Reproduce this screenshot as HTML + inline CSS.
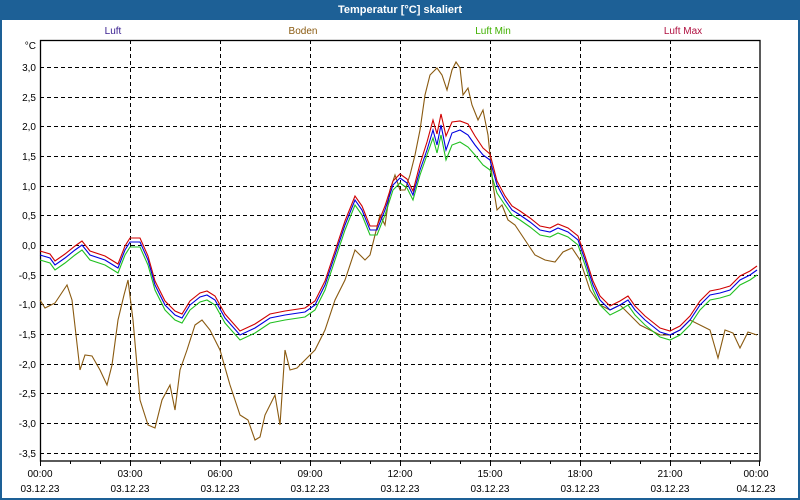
<!DOCTYPE html>
<html><head><meta charset="utf-8"><style>
html,body{margin:0;padding:0;background:#fff}
svg{display:block;font-family:"Liberation Sans",sans-serif}
</style></head><body>
<svg width="800" height="500" xmlns="http://www.w3.org/2000/svg">
<rect x="0" y="0" width="800" height="500" fill="#1d6096"/>
<rect x="2" y="20" width="796" height="478" fill="#fff"/>
<text x="400" y="13" fill="#fff" font-size="11" font-weight="bold" text-anchor="middle">Temperatur [°C] skaliert</text>
<g font-size="10" text-anchor="middle">
<text x="113" y="34" fill="#3a2090">Luft</text>
<text x="303" y="34" fill="#8a5a10">Boden</text>
<text x="493" y="34" fill="#40b000">Luft Min</text>
<text x="683" y="34" fill="#b01040">Luft Max</text>
</g>
<g stroke="#000" stroke-dasharray="4,3" stroke-width="1">
<line x1="130.5" y1="40" x2="130.5" y2="461"/><line x1="220.5" y1="40" x2="220.5" y2="461"/>
<line x1="310.5" y1="40" x2="310.5" y2="461"/><line x1="400.5" y1="40" x2="400.5" y2="461"/>
<line x1="490.5" y1="40" x2="490.5" y2="461"/><line x1="580.5" y1="40" x2="580.5" y2="461"/>
<line x1="670.5" y1="40" x2="670.5" y2="461"/>
<line x1="40" y1="67.5" x2="760" y2="67.5"/><line x1="40" y1="97.5" x2="760" y2="97.5"/>
<line x1="40" y1="126.5" x2="760" y2="126.5"/><line x1="40" y1="156.5" x2="760" y2="156.5"/>
<line x1="40" y1="186.5" x2="760" y2="186.5"/><line x1="40" y1="215.5" x2="760" y2="215.5"/>
<line x1="40" y1="245.5" x2="760" y2="245.5"/><line x1="40" y1="275.5" x2="760" y2="275.5"/>
<line x1="40" y1="304.5" x2="760" y2="304.5"/><line x1="40" y1="334.5" x2="760" y2="334.5"/>
<line x1="40" y1="364.5" x2="760" y2="364.5"/><line x1="40" y1="393.5" x2="760" y2="393.5"/>
<line x1="40" y1="423.5" x2="760" y2="423.5"/><line x1="40" y1="453.5" x2="760" y2="453.5"/>
</g>
<rect x="40.5" y="40.5" width="719.5" height="420.5" fill="none" stroke="#000" stroke-width="1.3"/>
<g stroke="#000">
<path d="M40.5 461v5M70.5 461v3M100.5 461v3M130.5 461v5M160.5 461v3M190.5 461v3M220.5 461v5M250.5 461v3M280.5 461v3M310.5 461v5M340.5 461v3M370.5 461v3M400.5 461v5M430.5 461v3M460.5 461v3M490.5 461v5M520.5 461v3M550.5 461v3M580.5 461v5M610.5 461v3M640.5 461v3M670.5 461v5M700.5 461v3M730.5 461v3M759.5 461v5"/>
</g>
<g font-size="10" fill="#000" text-anchor="end">
<text x="36" y="49">°C</text>
<text x="36" y="71">3,0</text><text x="36" y="101">2,5</text><text x="36" y="130">2,0</text>
<text x="36" y="160">1,5</text><text x="36" y="190">1,0</text><text x="36" y="219">0,5</text>
<text x="36" y="249">0,0</text><text x="36" y="279">-0,5</text><text x="36" y="308">-1,0</text>
<text x="36" y="338">-1,5</text><text x="36" y="368">-2,0</text><text x="36" y="397">-2,5</text>
<text x="36" y="427">-3,0</text><text x="36" y="457">-3,5</text>
</g>
<g font-size="10" fill="#000" text-anchor="middle">
<text x="40" y="477">00:00</text><text x="130" y="477">03:00</text><text x="220" y="477">06:00</text>
<text x="310" y="477">09:00</text><text x="400" y="477">12:00</text><text x="490" y="477">15:00</text>
<text x="580" y="477">18:00</text><text x="670" y="477">21:00</text><text x="756" y="477">00:00</text>
<text x="40" y="492">03.12.23</text><text x="130" y="492">03.12.23</text><text x="220" y="492">03.12.23</text>
<text x="310" y="492">03.12.23</text><text x="400" y="492">03.12.23</text><text x="490" y="492">03.12.23</text>
<text x="580" y="492">03.12.23</text><text x="670" y="492">03.12.23</text><text x="756" y="492">04.12.23</text>
</g>
<g fill="none" stroke-width="1.1">
<polyline stroke="#8a5a10" points="40,300 45,308 55,303 67,285 72,300 80,370 85,355 92,356 100,370 107,385 112,365 118,320 124,295 128,280 133,320 140,400 148,425 155,428 162,400 170,385 175,410 180,370 187,350 195,325 202,320 210,330 220,350 230,385 240,415 248,420 255,440 260,437 265,415 275,395 280,425 285,350 290,370 297,368 305,360 315,350 325,330 335,300 345,280 355,250 365,260 370,255 380,215 385,225 390,190 395,175 400,190 405,190 410,175 415,155 420,130 425,95 430,75 437,68 442,75 447,90 452,70 456,62 460,68 463,95 468,88 472,105 478,120 483,110 488,135 493,185 497,210 502,205 508,220 515,225 525,240 535,255 545,260 555,262 563,252 572,248 580,260 590,290 600,305 610,310 620,305 630,315 640,325 650,330 660,335 670,335 680,330 690,320 700,325 710,330 718,358 725,330 733,333 740,348 748,332 757,335"/>
<polyline stroke="#20c020" transform="translate(0,5)" points="40,255 50,258 55,265 65,258 75,250 82,245 90,255 105,260 118,268 125,250 130,242 140,242 148,260 155,285 165,305 175,315 182,318 190,305 200,297 207,295 215,300 225,318 240,335 255,328 270,318 285,315 305,312 315,305 325,285 335,255 345,225 355,200 362,210 370,230 377,230 385,210 393,185 400,178 407,183 413,195 420,170 427,150 433,133 437,148 441,130 446,155 452,140 460,137 468,142 475,150 483,160 490,165 497,188 505,200 512,210 520,215 530,222 540,230 550,232 558,228 568,232 578,240 585,260 593,285 600,300 610,310 620,305 628,300 635,310 645,320 660,332 670,335 680,330 690,320 700,305 710,295 720,293 730,290 740,280 750,275 757,270"/>
<polyline stroke="#d00000" transform="translate(0,-4)" points="40,255 50,258 55,265 65,258 75,250 82,245 90,255 105,260 118,268 125,250 130,242 140,242 148,260 155,285 165,305 175,315 182,318 190,305 200,297 207,295 215,300 225,318 240,335 255,328 270,318 285,315 305,312 315,305 325,285 335,255 345,225 355,200 362,210 370,230 377,230 385,210 393,185 400,178 407,183 413,195 420,168 427,146 433,124 437,138 441,118 446,140 452,126 460,125 468,128 475,140 483,152 490,158 497,185 505,200 512,210 520,215 530,222 540,230 550,232 558,228 568,232 578,240 585,260 593,285 600,300 610,310 620,305 628,300 635,310 645,320 660,332 670,335 680,330 690,320 700,305 710,295 720,293 730,290 740,280 750,275 757,270"/>
<polyline stroke="#0000e0" points="40,255 50,258 55,265 65,258 75,250 82,245 90,255 105,260 118,268 125,250 130,242 140,242 148,260 155,285 165,305 175,315 182,318 190,305 200,297 207,295 215,300 225,318 240,335 255,328 270,318 285,315 305,312 315,305 325,285 335,255 345,225 355,200 362,210 370,230 377,230 385,210 393,185 400,178 407,183 413,195 420,170 427,150 433,130 437,145 441,125 446,150 452,133 460,130 468,135 475,145 483,155 490,160 497,185 505,200 512,210 520,215 530,222 540,230 550,232 558,228 568,232 578,240 585,260 593,285 600,300 610,310 620,305 628,300 635,310 645,320 660,332 670,335 680,330 690,320 700,305 710,295 720,293 730,290 740,280 750,275 757,270"/>
</g>
</svg>
</body></html>
